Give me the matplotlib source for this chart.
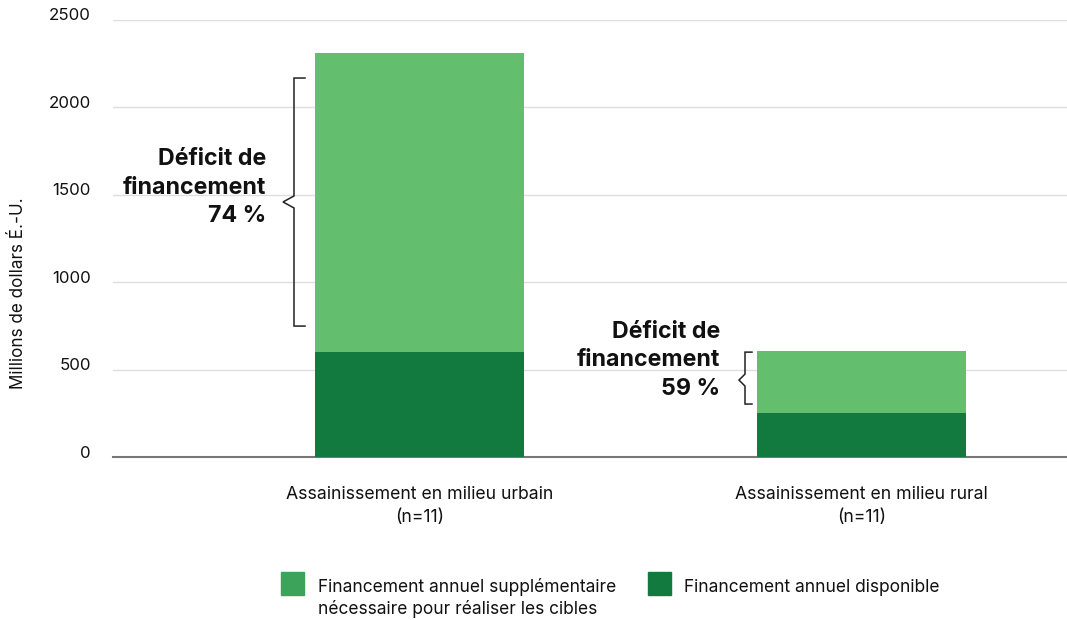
import matplotlib
matplotlib.use("Agg")
import matplotlib.pyplot as plt
import matplotlib.transforms as mtransforms
from matplotlib.patches import Rectangle

plt.rcParams['font.family'] = ['Inter', 'DejaVu Sans']

categories = ["Assainissement en milieu urbain\n(n=11)", "Assainissement en milieu rural\n(n=11)"]
available = [600, 250]
additional = [1710, 355]
gap_labels = ["Déficit de\nfinancement\n74 %", "Déficit de\nfinancement\n59 %"]
legend_labels = ["Financement annuel supplémentaire\nnécessaire pour réaliser les cibles",
                 "Financement annuel disponible"]
yticks = [0, 500, 1000, 1500, 2000, 2500]

c_light = "#63be6e"
c_dark = "#127a3e"
c_light_leg = "#3ba35a"

W, H = 1067, 620
fig = plt.figure(figsize=(W / 100, H / 100), dpi=100)
ax_l, ax_r, ax_b, ax_t = 113, 1067, 457, 20
ax = fig.add_axes([ax_l / W, 1 - ax_b / H, (ax_r - ax_l) / W, (ax_b - ax_t) / H])

x = [0, 1]
xspan = 1 / ((861.5 - 419.5) / (ax_r - ax_l))
xmin = -((419.5 - ax_l) / (ax_r - ax_l)) * xspan
ax.set_xlim(xmin, xmin + xspan)
ax.set_ylim(0, 2500)
bw = 209 / (ax_r - ax_l) * xspan
px = xspan / (ax_r - ax_l)

ax.bar(x, available, width=bw, color=c_dark, zorder=3)
ax.bar(x, additional, width=bw, bottom=available, color=c_light, zorder=3)

ax.set_yticks(yticks)
ax.set_yticklabels([str(t) for t in yticks])
ax.yaxis.grid(True, color="#dedede", linewidth=1, zorder=0)
ax.set_axisbelow(True)
for s in ["top", "right", "left"]:
    ax.spines[s].set_visible(False)
ax.spines["bottom"].set_color("#777777")
ax.spines["bottom"].set_linewidth(1.5)
ax.tick_params(axis="y", length=0, pad=16, labelsize=12.2, labelcolor="#111111")
ax.tick_params(axis="x", length=0, bottom=False, labelbottom=False)
offset = mtransforms.ScaledTranslation(0, 5.5 / 100, fig.dpi_scale_trans)
for lab in ax.get_yticklabels():
    lab.set_transform(lab.get_transform() + offset)

# category labels
for xi, cat in zip(x, categories):
    xfig = ax_l + (xi - xmin) / xspan * (ax_r - ax_l)
    fig.text(xfig / W, 1 - 506 / H, cat, ha="center", va="center", fontsize=12.7,
             color="#111111", linespacing=1.42)

# y label
fig.text(18.5 / W, 1 - 293 / H, "Millions de dollars É.-U.", rotation=90, ha="center",
         va="center", fontsize=12.3, color="#111111")

# braces and gap labels
brace_specs = [
    # (y_top, y_bot, y_mid, line_off, tick_off, notch_off, text_x_off, text_y)
    (2168, 749, 1459, 21, 10, 32, 49, 187.5),
    (600, 303, 440, 12, 5, 18, 37, 360.5),
]
for xi, spec, lab in zip(x, brace_specs, gap_labels):
    yt, yb, ym, lo, to, no, tx, ty = spec
    left = xi - bw / 2
    xl = left - lo * px
    xt = left - to * px
    xn = left - no * px
    dy = 6 / 0.1748
    ax.plot([xt, xl, xl, xn, xl, xl, xt],
            [yt, yt, ym + dy, ym, ym - dy, yb, yb],
            color="#222222", linewidth=1.1, zorder=4, clip_on=False,
            solid_joinstyle="miter")
    xfig = ax_l + (left - xmin) / xspan * (ax_r - ax_l) - tx
    fig.text(xfig / W, 1 - ty / H, lab, ha="right", va="center", fontsize=16.7,
             fontweight="bold", color="#111111", linespacing=1.36)

# legend
leg_items = [(281, 318, c_light_leg, legend_labels[0]), (648, 684, c_dark, legend_labels[1])]
for sx, tx, col, lab in leg_items:
    fig.add_artist(Rectangle((sx / W, 1 - 595 / H), 23 / W, 23 / H, color=col,
                             transform=fig.transFigure))
    fig.text(tx / W, 1 - 585 / H, lab.split("\n")[0], ha="left", va="center_baseline",
             fontsize=12.5, color="#111111")
    if "\n" in lab:
        fig.text(tx / W, 1 - 607 / H, lab.split("\n")[1], ha="left", va="center_baseline",
                 fontsize=12.5, color="#111111")

fig.savefig("out.png", dpi=100)
